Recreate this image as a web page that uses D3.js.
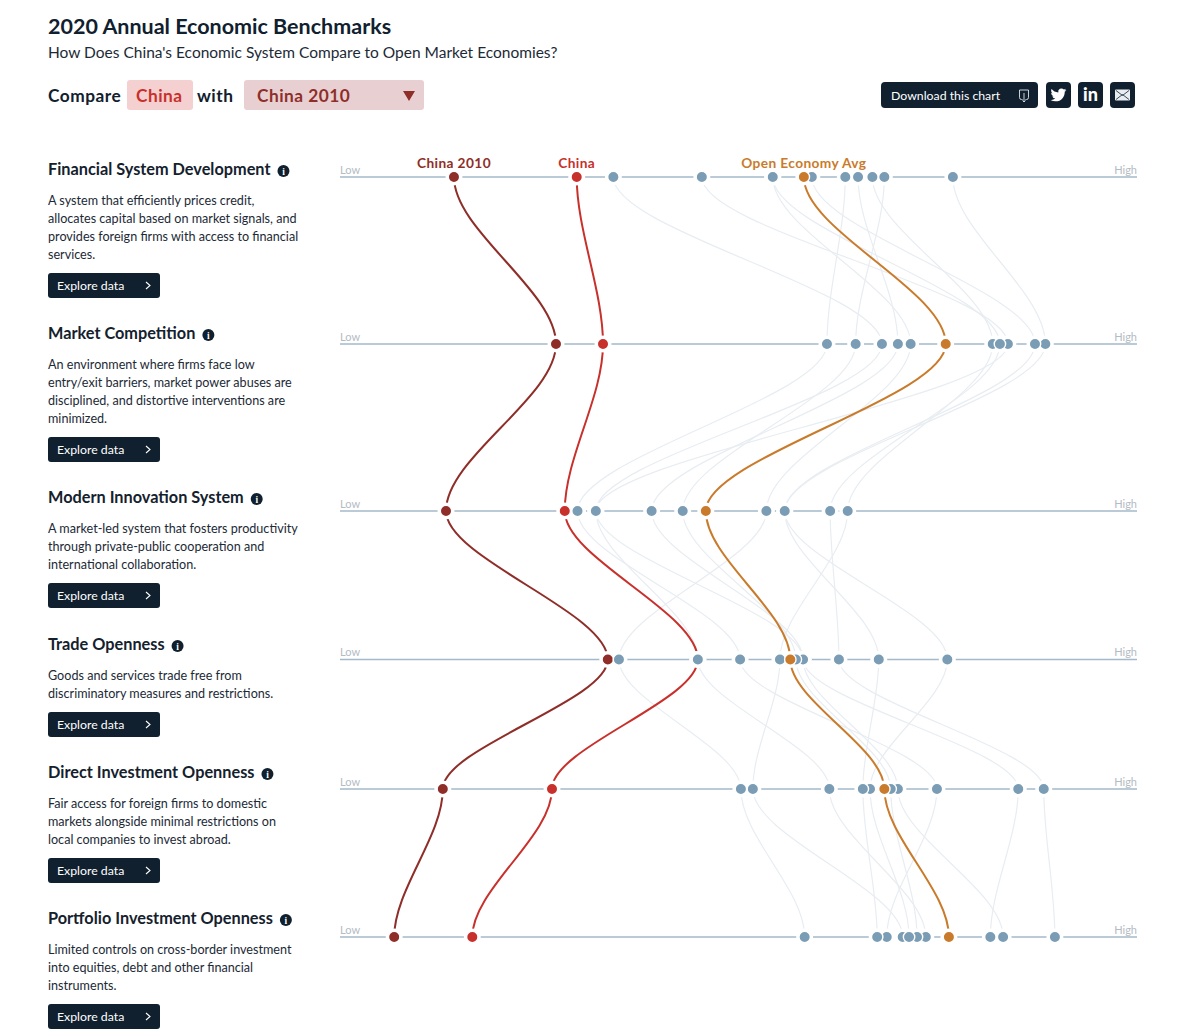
<!DOCTYPE html>
<html>
<head>
<meta charset="utf-8">
<title>2020 Annual Economic Benchmarks</title>
<script src="https://cdnjs.cloudflare.com/ajax/libs/d3/7.8.5/d3.min.js"></script>
<style>
  html, body { margin: 0; padding: 0; background: #fff; }
  svg { display: block; font-family: Lato, sans-serif; }
  .heading { font-size: 16.3px; font-weight: 700; fill: #14212d; }
  .body-text { font-size: 12.6px; fill: #1c2a36; }
  .btn-text { font-size: 12.3px; fill: #fff; }
  .end-label { font-size: 11px; fill: #b3bcc4; }
  .series-label { font-size: 13.7px; font-weight: 700; letter-spacing: .4px; }
</style>
</head>
<body>
<svg id="chart" width="1200" height="1036"></svg>
<script>
// categories, top to bottom
const categories = ['Financial System Development', 'Market Competition', 'Modern Innovation System',
    'Trade Openness', 'Direct Investment Openness', 'Portfolio Investment Openness'];

const descriptions = [
    ['A system that efficiently prices credit,', 'allocates capital based on market signals, and', 'provides foreign firms with access to financial', 'services.'],
    ['An environment where firms face low', 'entry/exit barriers, market power abuses are', 'disciplined, and distortive interventions are', 'minimized.'],
    ['A market-led system that fosters productivity', 'through private-public cooperation and', 'international collaboration.'],
    ['Goods and services trade free from', 'discriminatory measures and restrictions.'],
    ['Fair access for foreign firms to domestic', 'markets alongside minimal restrictions on', 'local companies to invest abroad.'],
    ['Limited controls on cross-border investment', 'into equities, debt and other financial', 'instruments.']
];

// values, low = 0, high = 100
const china2010 = [14.3, 27.1, 13.3, 33.6, 12.9, 6.8];
const china = [29.7, 33.0, 28.2, 44.9, 26.6, 16.6];
const openAvg = [58.2, 76.0, 45.9, 56.5, 68.3, 76.4];

// the unlabelled open economies, in drawing order
const peers = [
    [34.3, 68.0, 32.1, 44.9, 61.4, 73.5],
    [54.3, 71.6, 53.5, 35.0, 50.3, 58.3],
    [63.4, 61.1, 29.8, 50.2, 74.9, 68.6],
    [65.0, 70.0, 39.1, 58.1, 85.1, 81.6],
    [45.4, 83.8, 32.1, 58.1, 70.0, 83.2],
    [66.8, 81.9, 63.7, 55.2, 51.8, 70.6],
    [68.3, 64.7, 43.0, 57.2, 69.1, 72.4],
    [76.9, 88.5, 55.8, 76.2, 66.5, 71.4],
    [59.2, 87.2, 55.8, 67.6, 65.6, 67.4],
    [54.3, 82.8, 61.5, 62.6, 88.3, 89.7]
];

// layout
const rowY = [177, 344, 511, 659.5, 789, 937];
const headingY = [175, 339, 503, 650, 778, 924];
const tension = 0.32;

const ink = '#10202e';
const colChina2010 = '#8f2e29';
const colChina = '#c8302b';
const colAvg = '#c97b2b';
const colPeer = '#7a9db5';

const svg = d3.select('#chart');

const x = d3.scaleLinear().domain([0, 100]).range([340, 1137]);
const y = d3.scaleOrdinal().domain(categories).range(rowY);

// ---- header
svg.append('text').attr('x', 48).attr('y', 34)
    .style('font-size', '21.5px').style('font-weight', 700).style('fill', ink)
    .text('2020 Annual Economic Benchmarks');
svg.append('text').attr('x', 48).attr('y', 58)
    .style('font-size', '15.5px').style('fill', '#1c2a36')
    .text("How Does China's Economic System Compare to Open Market Economies?");

svg.append('rect').attr('x', 127).attr('y', 80).attr('width', 66).attr('height', 30).attr('rx', 3).attr('fill', '#f4d0d0');
svg.append('rect').attr('x', 244).attr('y', 80).attr('width', 180).attr('height', 30).attr('rx', 3).attr('fill', '#e8d0d2');

[['Compare', 48, ink], ['China', 136, colChina], ['with', 197, ink], ['China 2010', 257, colChina2010]].forEach(d => {
    svg.append('text').attr('x', d[1]).attr('y', 102)
        .style('font-size', '17.3px').style('font-weight', 700).style('letter-spacing', '.5px').style('fill', d[2])
        .text(d[0]);
});
svg.append('path').attr('d', 'M403,91H415L409,101Z').attr('fill', colChina2010);

// download + share buttons
svg.append('rect').attr('x', 881).attr('y', 82).attr('width', 157).attr('height', 26).attr('rx', 4).attr('fill', ink);
svg.append('text').attr('class', 'btn-text').attr('x', 891).attr('y', 99.5).text('Download this chart');
svg.append('path').attr('d', 'M1019.5,90h9v7.5q0,2 -2,2h-1M1019.5,90v7.5q0,2 2,2h1M1024,93v9M1022.5,100.5l1.5,1.5l1.5,-1.5')
    .attr('fill', 'none').attr('stroke', '#dfe5ea').attr('stroke-width', .9);

[1046, 1078, 1110].forEach(bx => {
    svg.append('rect').attr('x', bx).attr('y', 82).attr('width', 25).attr('height', 26).attr('rx', 4).attr('fill', ink);
});
svg.append('path')
    .attr('transform', 'translate(1050.5,87) scale(.66)')
    .attr('fill', '#fff')
    .attr('d', 'M23.95 4.57a10 10 0 0 1-2.82.77 4.96 4.96 0 0 0 2.16-2.72c-.95.55-2 .95-3.12 1.18a4.92 4.92 0 0 0-8.38 4.48C7.69 8.09 4.07 6.13 1.64 3.16a4.82 4.82 0 0 0-.66 2.47c0 1.71.87 3.2 2.19 4.1a4.9 4.9 0 0 1-2.23-.61v.06c0 2.38 1.69 4.37 3.95 4.83a5 5 0 0 1-2.21.08 4.94 4.94 0 0 0 4.6 3.42A9.87 9.87 0 0 1 0 19.54a14 14 0 0 0 7.56 2.21c9.05 0 14-7.5 14-13.98 0-.21 0-.42-.02-.63a9.94 9.94 0 0 0 2.46-2.55z');
svg.append('text').attr('x', 1090.5).attr('y', 101).attr('text-anchor', 'middle')
    .style('font-size', '18px').style('font-weight', 900).style('fill', '#fff').text('in');
svg.append('rect').attr('x', 1115).attr('y', 89.5).attr('width', 15).attr('height', 11).attr('rx', 1).attr('fill', '#e8edf1');
svg.append('path').attr('d', 'M1116,90.5L1122.5,95.5L1129,90.5M1116,99.5L1122.5,94.5L1129,99.5')
    .attr('fill', 'none').attr('stroke', ink).attr('stroke-width', .8);

// ---- left column
categories.forEach((name, i) => {
    const g = svg.append('g');
    const head = g.append('text').attr('class', 'heading').attr('x', 48).attr('y', headingY[i]).text(name);

    const infoX = 48 + head.node().getComputedTextLength() + 13;
    g.append('circle').attr('cx', infoX).attr('cy', headingY[i] - 4).attr('r', 6).attr('fill', ink);
    g.append('text').attr('x', infoX).attr('y', headingY[i] - 0.5).attr('text-anchor', 'middle')
        .style('font-size', '9.5px').style('font-weight', 700).style('font-family', 'Liberation Serif').style('fill', '#fff').text('i');

    const lines = descriptions[i];
    lines.forEach((line, j) => {
        g.append('text').attr('class', 'body-text').attr('x', 48).attr('y', headingY[i] + 30 + j * 18).text(line);
    });

    const btnTop = headingY[i] + 30 + (lines.length - 1) * 18 + 14;
    g.append('rect').attr('x', 48).attr('y', btnTop).attr('width', 112).attr('height', 25).attr('rx', 3).attr('fill', ink);
    g.append('text').attr('class', 'btn-text').attr('x', 57).attr('y', btnTop + 17).text('Explore data');
    g.append('path').attr('d', `M146,${btnTop + 9}l4,3.5l-4,3.5`).attr('fill', 'none').attr('stroke', '#fff').attr('stroke-width', 1.1);
});

// ---- axes
const axes = svg.append('g');
categories.forEach(name => {
    axes.append('line')
        .attr('x1', x.range()[0]).attr('x2', x.range()[1])
        .attr('y1', y(name)).attr('y2', y(name))
        .attr('stroke', '#a4b9ca').attr('stroke-width', 1.5);
    axes.append('text').attr('class', 'end-label').attr('x', x.range()[0]).attr('y', y(name) - 3.5).text('Low');
    axes.append('text').attr('class', 'end-label').attr('x', x.range()[1]).attr('y', y(name) - 3.5)
        .attr('text-anchor', 'end').text('High');
});

// ---- connecting lines, vertical at each row and straighter through the middle than curveBumpY
const line = values => {
    const p = d3.path();
    values.forEach((v, i) => {
        const y1 = y(categories[i]);
        if (i === 0) { p.moveTo(x(v), y1); return; }
        const y0 = y(categories[i - 1]);
        const dy = (y1 - y0) * tension;
        p.bezierCurveTo(x(values[i - 1]), y0 + dy, x(v), y1 - dy, x(v), y1);
    });
    return p.toString();
};

svg.append('g').selectAll('path').data(peers).join('path')
    .attr('d', line).attr('fill', 'none').attr('stroke', '#e8edf2').attr('stroke-width', 1.2);

const mainSeries = [
    {name: 'China 2010', values: china2010, color: colChina2010},
    {name: 'China', values: china, color: colChina},
    {name: 'Open Economy Avg', values: openAvg, color: colAvg}
];

svg.append('g').selectAll('path').data(mainSeries).join('path')
    .attr('d', d => line(d.values)).attr('fill', 'none').attr('stroke', d => d.color).attr('stroke-width', 2);

// ---- dots: white halo cuts the axis and the lines, then the marks on top
const allDots = [];
const addDots = (values, color) => values.forEach((v, i) => allDots.push({v, i, color}));
addDots(china2010, colChina2010);
addDots(china, colChina);
peers.forEach(p => addDots(p, colPeer));
addDots(openAvg, colAvg);

svg.append('g').selectAll('circle').data(allDots).join('circle')
    .attr('cx', d => x(d.v)).attr('cy', d => y(categories[d.i]))
    .attr('r', 8.5).attr('fill', '#fff');

svg.append('g').selectAll('circle').data(allDots).join('circle')
    .attr('cx', d => x(d.v)).attr('cy', d => y(categories[d.i]))
    .attr('r', 5.7).attr('fill', d => d.color)
    .attr('stroke', '#fff').attr('stroke-width', 1.4);

// series names over the first row
svg.append('g').selectAll('text').data(mainSeries).join('text')
    .attr('class', 'series-label')
    .attr('x', d => x(d.values[0])).attr('y', rowY[0] - 9)
    .attr('text-anchor', 'middle')
    .style('fill', d => d.color)
    .text(d => d.name);
</script>
</body>
</html>
